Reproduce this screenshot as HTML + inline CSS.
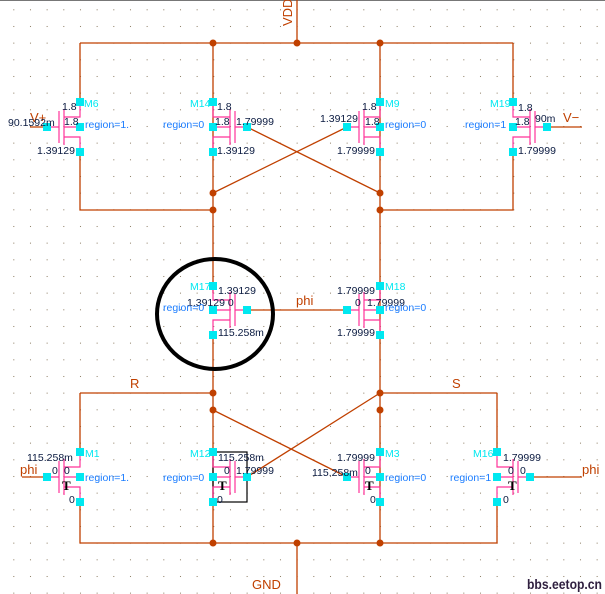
<!DOCTYPE html>
<html><head><meta charset="utf-8"><style>
html,body{margin:0;padding:0;background:#fff;}
svg{display:block}
text{font-family:"Liberation Sans",sans-serif;font-size:10.5px;}
.v{fill:#0a1a40}.c{fill:#00e8f0}.b{fill:#1a7cff}.o{fill:#c04000;font-size:13px}
.T{font-family:"Liberation Serif",serif;font-weight:bold;font-size:13px;fill:#000}
</style></head><body>
<svg id="s" width="605" height="594" viewBox="0 0 605 594" xmlns="http://www.w3.org/2000/svg">
<defs><pattern id="g" x="13.3" y="9.3" width="16.667" height="16.667" patternUnits="userSpaceOnUse"><rect x="0" y="0" width="1" height="1" fill="#8a7a60"/></pattern></defs>
<rect width="605" height="594" fill="url(#g)"/>
<rect x="0" y="0" width="605" height="1" fill="#777"/>
<g stroke="#c04000" stroke-width="1.3" fill="none" id="w">
<path d="M297 0V43M80 43H513M80 43V102M80 152V210H213M513 43V102M513 152V210H380"/>
<path d="M213 43V293M380 43V293M213 102V152M380 102V152"/>
<path d="M247 127L380 193M347 127L213 193M547 127H582M47 127H30"/>
<path d="M213 335V543M380 293V543M247 310H347"/>
<path d="M80 393H213M380 393H497M80 393V452M497 393V452M80 502V543H497V502"/>
<path d="M213 410L347 477M247 477L380 393M47 477H22M530 477H582M297 543V594"/>
</g>
<g fill="#c04000">
<circle cx="213" cy="43" r="3.5"/><circle cx="380" cy="43" r="3.5"/><circle cx="297" cy="43" r="3.5"/>
<circle cx="213" cy="193" r="3.5"/><circle cx="380" cy="193" r="3.5"/><circle cx="213" cy="210" r="3.5"/><circle cx="380" cy="210" r="3.5"/>
<circle cx="213" cy="393" r="3.5"/><circle cx="380" cy="393" r="3.5"/><circle cx="213" cy="410" r="3.5"/><circle cx="380" cy="410" r="3.5"/>
<circle cx="213" cy="543" r="3.5"/><circle cx="380" cy="543" r="3.5"/><circle cx="297" cy="543" r="3.5"/>
</g>
<rect x="213" y="452" width="34" height="50" fill="none" stroke="#000" stroke-width="1.2"/>
<g id="tr" stroke="#ff3399" stroke-width="1.2" fill="none"></g>
<g id="pins" fill="#00e8f0"></g>
<ellipse cx="215" cy="314" rx="58" ry="55" fill="none" stroke="#000" stroke-width="4"/>
<text class="o" transform="translate(292,26) rotate(-90)">VDD</text>
<text class="o" x="252" y="589">GND</text>
<text class="o" x="130" y="388">R</text>
<text class="o" x="452" y="388">S</text>
<text class="o" x="296" y="305">phi</text>
<text class="o" x="20" y="474">phi</text>
<text class="o" x="582" y="474">phi</text>
<text class="o" x="563" y="122">V−</text>
<text class="o" x="30" y="122">V+</text>
<text class="c" x="84" y="107">M6</text><text class="v" x="62" y="110">1.8</text><text class="v" x="64" y="125">1.8</text>
<text class="v" x="8" y="126">90.1592m</text><text class="b" x="85" y="128">region=1.</text><text class="v" x="37" y="154">1.39129</text>
<text class="c" x="190" y="107">M14</text><text class="v" x="217" y="110">1.8</text><text class="v" x="215" y="125">1.8</text>
<text class="v" x="236" y="125">1.79999</text><text class="b" x="163" y="128">region=0</text><text class="v" x="217" y="154">1.39129</text>
<text class="c" x="385" y="107">M9</text><text class="v" x="362" y="110">1.8</text><text class="v" x="365" y="125">1.8</text>
<text class="v" x="320" y="122">1.39129</text><text class="b" x="385" y="128">region=0</text><text class="v" x="337" y="154">1.79999</text>
<text class="c" x="490" y="107">M19</text><text class="v" x="518" y="111">1.8</text><text class="v" x="515" y="125">1.8</text>
<text class="v" x="535" y="122">90m</text><text class="b" x="465" y="128">region=1</text><text class="v" x="518" y="154">1.79999</text>
<text class="c" x="190" y="290">M17</text><text class="v" x="218" y="294">1.39129</text><text class="v" x="187" y="306">1.39129 0</text>
<text class="b" x="163" y="311">region=0</text><text class="v" x="218" y="336">115.258m</text>
<text class="c" x="385" y="290">M18</text><text class="v" x="337" y="294">1.79999</text><text class="v" x="355" y="306">0</text>
<text class="v" x="367" y="306">1.79999</text><text class="b" x="385" y="311">region=0</text><text class="v" x="337" y="336">1.79999</text>
<text class="c" x="85" y="457">M1</text><text class="v" x="27" y="461">115.258m</text><text class="v" x="52" y="474">0</text><text class="v" x="64" y="474">0</text>
<text class="b" x="85" y="481">region=1.</text><text class="T" x="62" y="490">T</text><text class="v" x="69" y="503">0</text>
<text class="c" x="190" y="457">M12</text><text class="v" x="218" y="461">115.258m</text><text class="v" x="224" y="474">0</text><text class="v" x="236" y="474">1.79999</text>
<text class="b" x="163" y="481">region=0</text><text class="T" x="218" y="490">T</text><text class="v" x="217" y="503">0</text>
<text class="c" x="385" y="457">M3</text><text class="v" x="337" y="461">1.79999</text><text class="v" x="312" y="476">115.258m</text><text class="v" x="365" y="474">0</text>
<text class="b" x="385" y="481">region=0</text><text class="T" x="365" y="490">T</text><text class="v" x="370" y="503">0</text>
<text class="c" x="473" y="457">M16</text><text class="v" x="503" y="461">1.79999</text><text class="v" x="508" y="474">0</text><text class="v" x="520" y="474">0</text>
<text class="b" x="450" y="481">region=1</text><text class="T" x="508" y="490">T</text><text class="v" x="503" y="503">0</text>
<text x="527" y="589" textLength="75" lengthAdjust="spacingAndGlyphs" style="font-size:14px;font-weight:bold;fill:#302040">bbs.eetop.cn</text>
</svg>
<script>
var NS="http://www.w3.org/2000/svg";
var tr=document.getElementById('tr'),pins=document.getElementById('pins');
function p(d){var e=document.createElementNS(NS,'path');e.setAttribute('d',d);tr.appendChild(e);}
function pin(x,y){var e=document.createElementNS(NS,'rect');e.setAttribute('x',x-4);e.setAttribute('y',y-4);e.setAttribute('width',8);e.setAttribute('height',8);pins.appendChild(e);}
function T(x,gx,yt,ym,yb){
 var d=gx<x?1:-1; var g=gx+d*12, ch=gx+d*17;
 p('M'+gx+' '+ym+'H'+g+'M'+g+' '+(ym-16)+'V'+(ym+16)+'M'+ch+' '+(ym-18)+'V'+(ym+18));
 p('M'+ch+' '+(ym-10)+'H'+x+'V'+yt+'M'+ch+' '+ym+'H'+x+'M'+ch+' '+(ym+10)+'H'+x+'V'+yb);
 pin(x,yt);pin(x,ym);pin(x,yb);pin(gx,ym);
}
T(80,47,102,127,152);T(213,247,102,127,152);T(380,347,102,127,152);T(513,547,102,127,152);
T(213,247,286,310,335);T(380,347,286,310,335);
T(80,47,452,477,502);T(213,247,452,477,502);T(380,347,452,477,502);T(497,530,452,477,502);
</script>
</body></html>
